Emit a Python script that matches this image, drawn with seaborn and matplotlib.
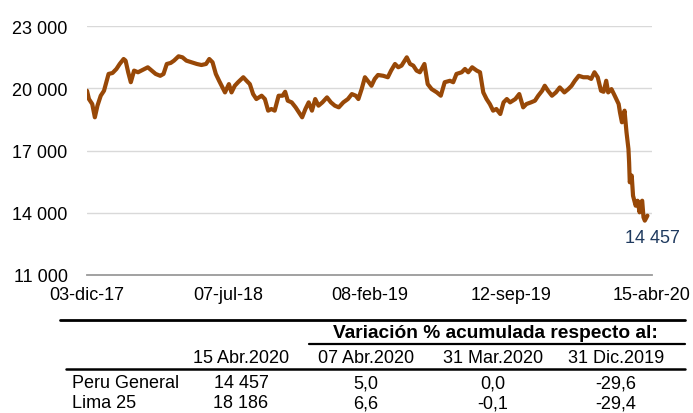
import numpy as np
import pandas as pd
import matplotlib
matplotlib.use("Agg")
import matplotlib.pyplot as plt
from matplotlib.lines import Line2D
import seaborn as sns

# ---------------- data ----------------
start_date = "2017-12-03"
days_from_start = [
    0, 3, 8, 12, 16, 21, 26, 33, 39, 45, 50, 56, 59, 63, 67, 72, 78, 86, 93, 99,
    105, 112, 117, 122, 128, 133, 140, 146, 152, 160, 168, 175, 182, 187, 192, 197, 202, 207, 211, 217,
    221, 226, 231, 239, 244, 249, 254, 259, 267, 272, 277, 282, 287, 293, 299, 303, 307, 313, 319, 324,
    329, 334, 339, 344, 349, 354, 360, 367, 373, 379, 385, 392, 399, 405, 411, 415, 420, 425, 431,
    435, 440, 445, 453, 460, 465, 471, 476, 481, 489, 494, 499, 504, 509, 516, 521, 527, 535, 541, 547,
    555, 560, 565, 573, 578, 583, 589, 596, 601, 606, 611, 616, 621, 626, 632, 637, 642,
    647, 655, 661, 667, 672, 679, 685, 690, 696, 700, 705, 711, 717, 723, 730, 736, 741, 746, 752, 759,
    766, 771, 776, 781, 786, 790, 794, 797, 802, 807, 813, 815, 818, 822, 825, 828, 829, 830, 833, 835,
    839, 842, 845, 847, 849, 851, 853, 857,
]
index_values = [
    19880, 19480, 19240, 18600, 19160, 19640, 19880, 20690, 20735, 20930, 21170, 21410, 21330, 20770, 20290, 20850, 20770, 20900, 21010, 20850,
    20690, 20600, 20690, 21170, 21220, 21330, 21540, 21490, 21330, 21250, 21170, 21120, 21170, 21410, 21250, 20690, 20360, 20045, 19800, 20200,
    19800, 20120, 20290, 20530, 20360, 20200, 19720, 19480, 19640, 19480, 18920, 19000, 18920, 19640, 19640, 19830, 19400, 19320, 19080, 18840,
    18600, 19000, 19320, 18920, 19480, 19160, 19320, 19560, 19320, 19160, 19080, 19320, 19480, 19720, 19640, 19480, 19960, 20530, 20290,
    20120, 20450, 20640, 20600, 20530, 20850, 21170, 21010, 21090, 21490, 21170, 21090, 20850, 20770, 21170, 20200, 19960, 19800, 19640, 20290,
    20360, 20290, 20690, 20770, 20930, 20770, 21010, 20850, 20770, 19800, 19480, 19240, 18920, 19000, 18760, 19320, 19480,
    19320, 19480, 19720, 19080, 19240, 19320, 19400, 19640, 19880, 20120, 19880, 19640, 19800, 20040, 19800, 19960, 20120, 20360, 20600, 20530,
    20530, 20450, 20770, 20530, 19880, 19830, 20360, 19800, 19960, 19640, 19240, 18840, 18360, 18920, 17880, 17070, 16430, 15470, 15790, 14820,
    14340, 14580, 14020, 14500, 14580, 13780, 13620, 13860,
]
x_tick_dates = ["2017-12-03", "2018-07-07", "2019-02-08", "2019-09-12", "2020-04-15"]
x_tick_labels = ["03-dic-17", "07-jul-18", "08-feb-19", "12-sep-19", "15-abr-20"]
y_ticks = [11000, 14000, 17000, 20000, 23000]
y_tick_labels = ["11 000", "14 000", "17 000", "20 000", "23 000"]
last_label = "14 457"

table_title = "Variación % acumulada respecto al:"
table_columns = ["15 Abr.2020", "07 Abr.2020", "31 Mar.2020", "31 Dic.2019"]
table_rows = ["Peru General", "Lima 25"]
table_cells = [
    ["14 457", "5,0", "0,0", "-29,6"],
    ["18 186", "6,6", "-0,1", "-29,4"],
]

# ---------------- style ----------------
sns.set_style("white")
plt.rcParams["font.family"] = ["Liberation Sans", "DejaVu Sans"]
FS = 13
LINE_COLOR = "#984807"

W, H = 693, 414
fig = plt.figure(figsize=(W / 100, H / 100), dpi=100)

def fx(px):
    return px / W

def fy(py):
    return 1 - py / H

ax_left, ax_right, ax_top, ax_bottom = 87, 652, 27, 276
ax = fig.add_axes([fx(ax_left), fy(ax_bottom), fx(ax_right - ax_left), (ax_bottom - ax_top) / H])

df = pd.DataFrame({
    "date": pd.Timestamp(start_date) + pd.to_timedelta(days_from_start, unit="D"),
    "value": index_values,
})

sns.lineplot(data=df, x="date", y="value", ax=ax, color=LINE_COLOR, linewidth=3.0,
             solid_joinstyle="round", solid_capstyle="round")

ax.set_xlim(pd.Timestamp(x_tick_dates[0]), pd.Timestamp(x_tick_dates[-1]))
ax.set_ylim(y_ticks[0], y_ticks[-1])
ax.set_xticks(pd.to_datetime(x_tick_dates))
ax.set_xticklabels(x_tick_labels, fontsize=FS)
ax.set_yticks(y_ticks)
ax.set_yticklabels(y_tick_labels, fontsize=FS)
ax.set_xlabel("")
ax.set_ylabel("")
ax.tick_params(axis="both", length=0, colors="black")
ax.tick_params(axis="y", pad=14)
ax.tick_params(axis="x", pad=8)
for lbl in ax.get_xticklabels() + ax.get_yticklabels():
    lbl.set_color("black")

for s in ["top", "right", "left"]:
    ax.spines[s].set_visible(False)
ax.spines["bottom"].set_color("#9A9A9A")
ax.spines["bottom"].set_linewidth(1.3)
ax.yaxis.grid(True, color="#D9D9D9", linewidth=1.0)
ax.xaxis.grid(False)
ax.set_axisbelow(True)
ax.patch.set_alpha(0)

ax.annotate(last_label, xy=(df["date"].iloc[-1], df["value"].iloc[-1]),
            xytext=(5, -22), textcoords="offset pixels",
            ha="center", va="center", fontsize=FS, color="#1F3A5F")

# ---------------- table ----------------
def hline(x0, x1, y, lw):
    fig.add_artist(Line2D([fx(x0), fx(x1)], [fy(y), fy(y)], color="black",
                          linewidth=lw, transform=fig.transFigure))

hline(60, 685, 321, 2.0)
hline(309, 685, 345, 1.6)
hline(66, 685, 370, 1.8)

fig.text(fx(495), fy(334), table_title, ha="center", va="center",
         fontsize=13.8, fontweight="bold", color="black")

col_centers = [241, 366, 493, 616]
for c, name in zip(col_centers, table_columns):
    fig.text(fx(c), fy(359), name, ha="center", va="center", fontsize=FS, color="black")

row_ys = [384, 404]
for ry, rname, cells in zip(row_ys, table_rows, table_cells):
    fig.text(fx(72), fy(ry), rname, ha="left", va="center", fontsize=FS, color="black")
    for c, val in zip(col_centers, cells):
        fig.text(fx(c), fy(ry), val, ha="center", va="center", fontsize=FS, color="black")

fig.savefig("out.png", dpi=100, facecolor="white")
